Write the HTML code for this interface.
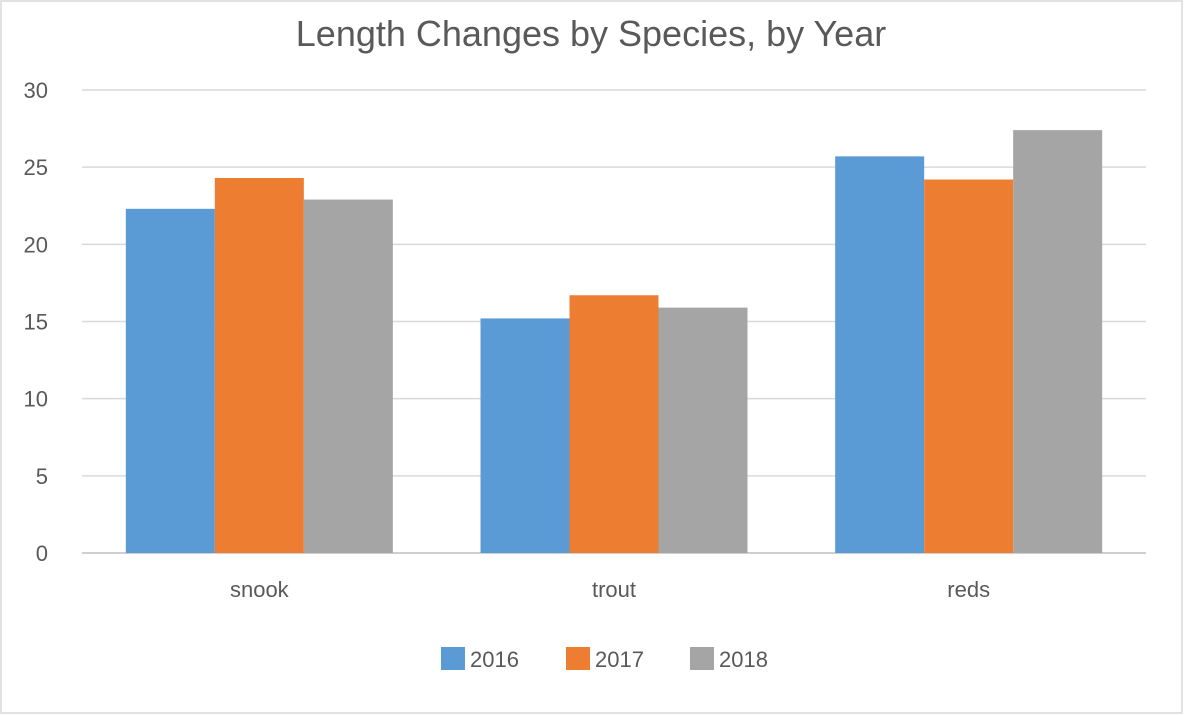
<!DOCTYPE html>
<html><head><meta charset="utf-8"><style>
html,body{margin:0;padding:0;background:#fff;}
svg{display:block;font-family:"Liberation Sans",sans-serif;}
</style></head><body>
<svg id="chart" width="1184" height="715">
<rect x="1" y="1" width="1181" height="712" fill="#fff" stroke="#d9d9d9" stroke-width="1.5"/>
<text x="591" y="46" text-anchor="middle" font-size="36" fill="#595959">Length Changes by Species, by Year</text>
<g id="grid"></g><g id="bars"></g><g id="axes"></g><g id="legend"></g>
</svg>
<script>
const categories = ["snook","trout","reds"];
const seriesNames = ["2016","2017","2018"];
const s2016 = [22.3, 15.2, 25.7];
const s2017 = [24.3, 16.7, 24.2];
const s2018 = [22.9, 15.9, 27.4];
const yTicks = [0,5,10,15,20,25,30];
const colors = ["#5B9BD5","#ED7D31","#A5A5A5"];
const NS="http://www.w3.org/2000/svg";
const plotLeft=82, plotRight=1146, plotTop=90, plotBottom=553, yMax=30;
function yScale(v){return plotBottom-(plotBottom-plotTop)*v/yMax;}
const catW=(plotRight-plotLeft)/categories.length;
const barW=89;
function mk(tag,attrs,parent){const e=document.createElementNS(NS,tag);for(const k in attrs)e.setAttribute(k,attrs[k]);parent.appendChild(e);return e;}
const gridG=document.getElementById('grid'), axesG=document.getElementById('axes'), barsG=document.getElementById('bars'), legendG=document.getElementById('legend');
yTicks.forEach(t=>{
  const l=mk('line',{x1:plotLeft,x2:plotRight,y1:yScale(t),y2:yScale(t),stroke:t===0?'#bfbfbf':'#d9d9d9','stroke-width':1.5},gridG);
  
  
  const tx=mk('text',{x:48,y:yScale(t)+8,'text-anchor':'end','font-size':22,fill:'#595959'},axesG);
  tx.textContent=t;
  
  
});
const series=[s2016,s2017,s2018];
categories.forEach((c,i)=>{
  const cx=plotLeft+catW*(i+0.5);
  series.forEach((s,j)=>{
    const x=cx-1.5*barW+j*barW;
    const r=mk('rect',{x:x,y:yScale(s[i]),width:barW,height:plotBottom-yScale(s[i]),fill:colors[j]},barsG);
    
    
  });
  const tx=mk('text',{x:cx,y:597,'text-anchor':'middle','font-size':22,fill:'#595959'},axesG);
  tx.textContent=c;
  
  
});
const lx=[441,566,690];
seriesNames.forEach((n,j)=>{
  const r=mk('rect',{x:lx[j],y:647,width:24,height:23,fill:colors[j]},legendG);
  
  
  const t=mk('text',{x:lx[j]+29,y:667,'font-size':22,fill:'#595959'},legendG);
  t.textContent=n;
  
  
});
</script>
</body></html>
